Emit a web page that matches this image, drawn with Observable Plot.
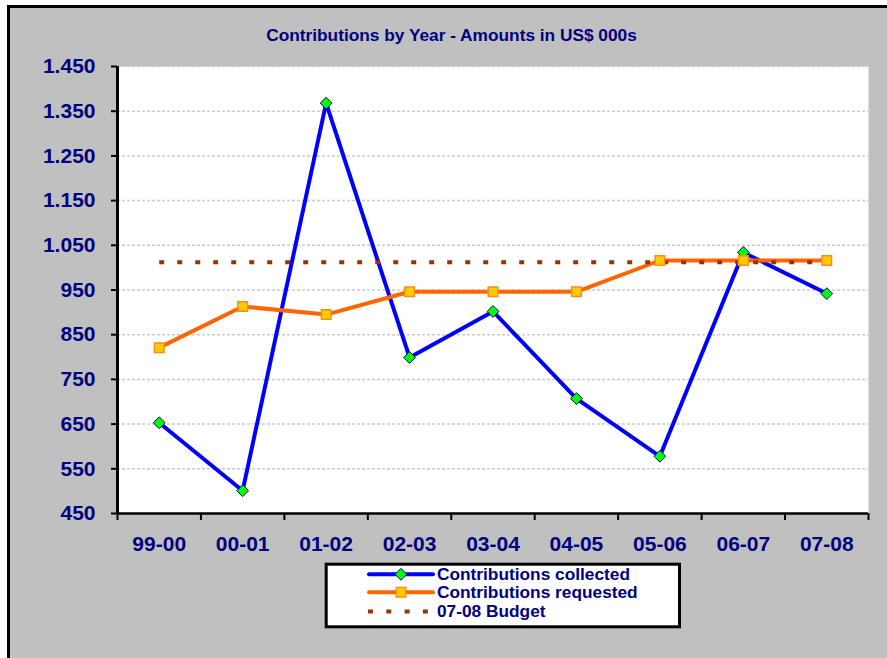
<!DOCTYPE html>
<html>
<head>
<meta charset="utf-8">
<script src="https://cdn.jsdelivr.net/npm/d3@7"></script>
<script src="https://cdn.jsdelivr.net/npm/@observablehq/plot@0.6"></script>
<style>
  html, body { margin: 0; padding: 0; background: white; overflow: hidden; }
  #wrap { position: relative; width: 887px; height: 658px; }
  #frame { position: absolute; left: 7px; top: 5px; width: 900px; height: 700px;
           border-left: 3px solid black; border-top: 3px solid black; background: #C0C0C0; }
  #chart { position: absolute; left: 0; top: 0; }
  #overlay { position: absolute; left: 0; top: 0; pointer-events: none; }
</style>
</head>
<body>
<div id="wrap">
  <div id="frame"></div>
  <div id="chart"></div>
  <svg id="overlay" width="887" height="658"></svg>
</div>
<script>
const title = "Contributions by Year - Amounts in US$ 000s";
const categories = ["99-00", "00-01", "01-02", "02-03", "03-04", "04-05", "05-06", "06-07", "07-08"];
const collected = [653, 501, 1368, 799, 902, 707, 578, 1034, 942];
const requested = [821, 913, 895, 946, 946, 946, 1016, 1016, 1016];
const budget = 1012;
const yTicks = [450, 550, 650, 750, 850, 950, 1050, 1150, 1250, 1350, 1450];
const seriesNames = ["Contributions collected", "Contributions requested", "07-08 Budget"];

const navy = "#000080";
const font = "'Liberation Sans', Arial, Helvetica, sans-serif";
const fmt = d => d >= 1000 ? d3.format(",")(d).replace(",", ".") : String(d);

const rows = categories.map((c, i) => ({i, cat: c, collected: collected[i], requested: requested[i], budget}));
const xDomain = [-0.5, categories.length - 0.5];
const bounds = d3.range(categories.length + 1).map(k => k - 0.5);

const chart = Plot.plot({
  width: 887,
  height: 658,
  marginLeft: 117,
  marginRight: 19,
  marginTop: 66,
  marginBottom: 145,
  x: {domain: xDomain, axis: null},
  y: {domain: [yTicks[0], yTicks[yTicks.length - 1]], axis: null},
  style: {background: "transparent", fontFamily: font, fontWeight: "bold", fontSize: "21px", overflow: "visible"},
  marks: [
    Plot.frame({fill: "white", stroke: "none"}),
    Plot.ruleY(yTicks.slice(1), {stroke: "#cbcbcb", strokeWidth: 1.5, strokeDasharray: "3,2"}),
    Plot.line(rows, {x: "i", y: "collected", stroke: "#0000FF", strokeWidth: 4, strokeLinejoin: "miter"}),
    Plot.line(rows, {x: "i", y: "requested", stroke: "#FF6600", strokeWidth: 4, strokeLinejoin: "miter"}),
    Plot.line(rows, {x: "i", y: "budget", stroke: "#993300", strokeWidth: 4, strokeDasharray: "5,13", strokeLinecap: "butt"}),
    Plot.dot(rows, {x: "i", y: "collected", symbol: "diamond2", r: 5.3, fill: "#00FF00", stroke: navy, strokeWidth: 1}),
    Plot.dot(rows, {x: "i", y: "requested", symbol: "square", r: 5.4, fill: "#FFCC00", stroke: "#FF8C1A", strokeWidth: 1.5}),
    Plot.ruleX([xDomain[0]], {stroke: "black", strokeWidth: 3}),
    Plot.ruleY([yTicks[0]], {stroke: "black", strokeWidth: 2.5}),
    Plot.axisY(yTicks, {tickSize: 6, tickPadding: 16, tickFormat: fmt, stroke: "black", strokeWidth: 2, fill: navy, label: null}),
    Plot.axisX(d3.range(categories.length), {tickSize: 0, tickPadding: 23, tickFormat: i => categories[i], fill: navy, label: null}),
    Plot.axisX(bounds, {tickSize: 7, tickFormat: () => "", stroke: "black", strokeWidth: 2, label: null})
  ]
});
document.getElementById("chart").append(chart);

// Title and legend
const ov = d3.select("#overlay");
ov.append("text")
  .attr("x", 451.5).attr("y", 41)
  .attr("text-anchor", "middle")
  .attr("font-family", font).attr("font-weight", "bold").attr("font-size", 17.3)
  .attr("fill", navy)
  .text(title);

ov.append("rect")
  .attr("x", 326.2).attr("y", 564.2).attr("width", 353.3).attr("height", 62.6)
  .attr("fill", "white").attr("stroke", "black").attr("stroke-width", 3);

const styles = [
  {stroke: "#0000FF", dash: null, symbol: d3.symbolDiamond2, size: Math.PI * 5.3 * 5.3, fill: "#00FF00", mstroke: navy, msw: 1},
  {stroke: "#FF6600", dash: null, symbol: d3.symbolSquare, size: Math.PI * 5.4 * 5.4, fill: "#FFCC00", mstroke: "#FF8C1A", msw: 1.5},
  {stroke: "#993300", dash: "5,13.3", symbol: null}
];
const rowY = [574.3, 592.3, 611.5];
seriesNames.forEach((name, k) => {
  const s = styles[k];
  const y = rowY[k];
  const ln = ov.append("line")
    .attr("x1", 369).attr("x2", 433).attr("y1", y).attr("y2", y)
    .attr("stroke", s.stroke).attr("stroke-width", 4)
    .attr("stroke-linecap", s.dash ? "butt" : "round");
  if (s.dash) ln.attr("stroke-dasharray", s.dash).attr("x1", 368);
  if (s.symbol) {
    ov.append("path")
      .attr("d", d3.symbol(s.symbol, s.size)())
      .attr("transform", `translate(401,${y})`)
      .attr("fill", s.fill).attr("stroke", s.mstroke).attr("stroke-width", s.msw);
  }
  ov.append("text")
    .attr("x", 437).attr("y", y + 5.8)
    .attr("font-family", font).attr("font-weight", "bold").attr("font-size", 17.3)
    .attr("fill", navy)
    .text(name);
});
</script>
</body>
</html>
